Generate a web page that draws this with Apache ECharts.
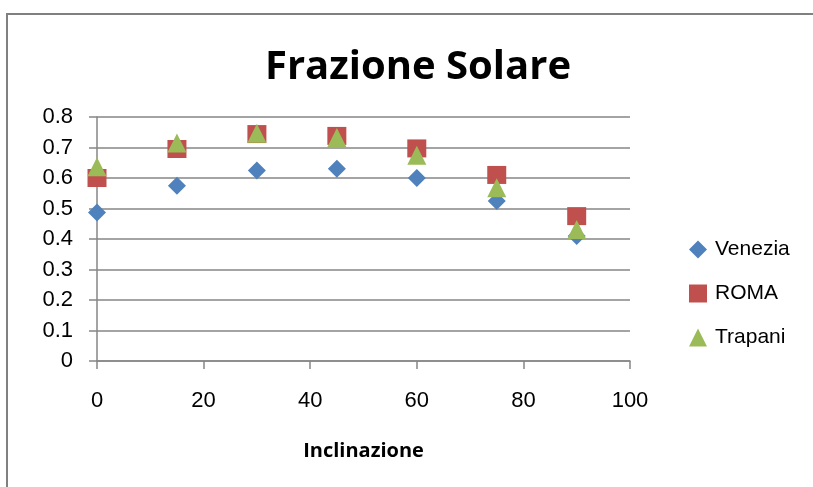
<!DOCTYPE html>
<html>
<head>
<meta charset="utf-8">
<script src="https://cdn.jsdelivr.net/npm/echarts@6/dist/echarts.min.js"></script>
<style>
	body { margin: 0; background: #fff; }
	#frame { position: absolute; left: 6px; top: 13px; width: 820px; height: 500px; border-left: 2px solid #808080; border-top: 2px solid #808080; }
	#chart { position: absolute; left: 0; top: 0; width: 813px; height: 487px; }
</style>
</head>
<body>
<div id="frame"></div>
<div id="chart"></div>
<script>
	// inclinazione (gradi)
	var inclinazione = [0, 15, 30, 45, 60, 75, 90];
	var venezia = [0.487, 0.575, 0.625, 0.63, 0.60, 0.525, 0.41];
	var roma = [0.60, 0.695, 0.744, 0.738, 0.697, 0.61, 0.475];
	var trapani = [0.637, 0.715, 0.747, 0.733, 0.675, 0.568, 0.431];

	function pairs(vals) {
		return inclinazione.map(function (x, i) { return [x, vals[i]]; });
	}

	var myChart = echarts.init(document.getElementById('chart'));
	var options = {
		animation: false,
		title: {
			text: 'Frazione Solare',
			left: 413,
			top: 43,
			textAlign: 'center',
			textStyle: { fontFamily: 'Open Sans', fontWeight: 'bold', fontSize: 40, color: '#000' }
		},
		legend: {
			orient: 'vertical',
			left: 684,
			top: 234,
			itemGap: 23,
			itemWidth: 18,
			itemHeight: 18,
			textStyle: { fontFamily: 'Liberation Sans', fontSize: 21, color: '#000', padding: [0, 0, 0, 3] },
			data: [
				{ name: 'Venezia', icon: 'diamond' },
				{ name: 'ROMA', icon: 'rect' },
				{ name: 'Trapani', icon: 'triangle' }
			]
		},
		grid: { left: 97, right: 183, top: 117, bottom: 126 },
		xAxis: {
			type: 'value',
			min: 0,
			max: 100,
			interval: 20,
			name: 'Inclinazione',
			nameLocation: 'middle',
			nameGap: 80,
			nameTextStyle: { fontFamily: 'Open Sans', fontWeight: 'bold', fontSize: 20, color: '#000' },
			axisLine: { lineStyle: { color: '#868686', width: 1.5 } },
			axisTick: { length: 8, lineStyle: { color: '#868686', width: 1.5 } },
			axisLabel: { margin: 29, fontFamily: 'Liberation Sans', fontSize: 22, color: '#000' },
			splitLine: { show: false }
		},
		yAxis: {
			type: 'value',
			min: 0,
			max: 0.8,
			interval: 0.1,
			axisLine: { show: true, lineStyle: { color: '#868686', width: 1.5 } },
			axisTick: { show: true, length: 8, lineStyle: { color: '#868686', width: 1.5 } },
			axisLabel: { margin: 24, fontFamily: 'Liberation Sans', fontSize: 22, color: '#000' },
			splitLine: { lineStyle: { color: '#868686', width: 1.5 } }
		},
		series: [{
			name: 'Venezia',
			type: 'scatter',
			symbol: 'diamond',
			symbolSize: [18, 18],
			itemStyle: { color: '#4F81BD', opacity: 1 },
			data: pairs(venezia)
		}, {
			name: 'ROMA',
			type: 'scatter',
			symbol: 'rect',
			symbolSize: [19, 18],
			itemStyle: { color: '#C0504D', opacity: 1 },
			data: pairs(roma)
		}, {
			name: 'Trapani',
			type: 'scatter',
			symbol: 'triangle',
			symbolSize: [19, 19],
			itemStyle: { color: '#9BBB59', opacity: 1 },
			data: pairs(trapani)
		}]
	};
	myChart.setOption(options);
</script>
</body>
</html>
